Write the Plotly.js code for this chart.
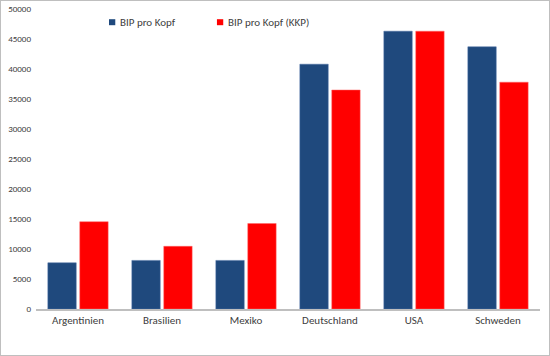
<!DOCTYPE html>
<html><head><meta charset="utf-8">
<script src="https://cdn.plot.ly/plotly-3.0.1.min.js"></script>
<style>html,body{margin:0;padding:0;background:#fff}#c{width:548px;height:354px;border:1px solid #bfbfbf}</style>
</head><body><div id="c"></div>
<script>
const categories = ["Argentinien","Brasilien","Mexiko","Deutschland","USA","Schweden"];
const bipProKopf = [7700, 8100, 8100, 40800, 46300, 43700];
const bipProKopfKKP = [14550, 10450, 14250, 36500, 46300, 37800];
const seriesNames = ["BIP pro Kopf", "BIP pro Kopf (KKP)"];
const seriesColors = ["#1f497d", "#ff0000"];
const yTicks = [0,5000,10000,15000,20000,25000,30000,35000,40000,45000,50000];
const font = "Carlito, Calibri, 'Liberation Sans', Arial, sans-serif";
const traces = [
 {type:"bar", name:seriesNames[0], x:categories, y:bipProKopf, marker:{color:seriesColors[0], line:{color:"#4a6fa5", width:0.5}}},
 {type:"bar", name:seriesNames[1], x:categories, y:bipProKopfKKP, marker:{color:seriesColors[1], line:{color:"#ff6666", width:0.5}}}
];
// custom legend (small squares + text) in paper coordinates
const legX = [0.1448, 0.359];
const shapes = [], annotations = [];
seriesNames.forEach((n,i)=>{
  shapes.push({type:"rect", xref:"paper", yref:"paper", x0:legX[i], x1:legX[i]+0.0125, y0:0.946, y1:0.966, fillcolor:seriesColors[i], line:{width:0}});
  annotations.push({xref:"paper", yref:"paper", x:legX[i]+0.018, y:0.956, xanchor:"left", yanchor:"middle", text:n, showarrow:false, font:{size:11, color:"#404040"}});
});
const layout = {
 width:548, height:354,
 margin:{l:35, r:9, t:8, b:46},
 paper_bgcolor:"#fff", plot_bgcolor:"#fff",
 barmode:"group", bargap:0.24, bargroupgap:0.11,
 font:{family:font, size:10, color:"#404040"},
 showlegend:false,
 shapes:shapes, annotations:annotations,
 xaxis:{showline:true, linecolor:"#bfbfbf", linewidth:1.5, ticks:"", tickfont:{size:11, color:"#404040"}, showgrid:false},
 yaxis:{range:[0,50000], tickvals:yTicks, ticktext:yTicks.map(String), showgrid:false, zeroline:false, showline:false, ticks:"", tickfont:{size:9, color:"#404040"}, ticklabelstandoff:4}
};
Plotly.newPlot("c", traces, layout, {displayModeBar:false});
</script></body></html>
